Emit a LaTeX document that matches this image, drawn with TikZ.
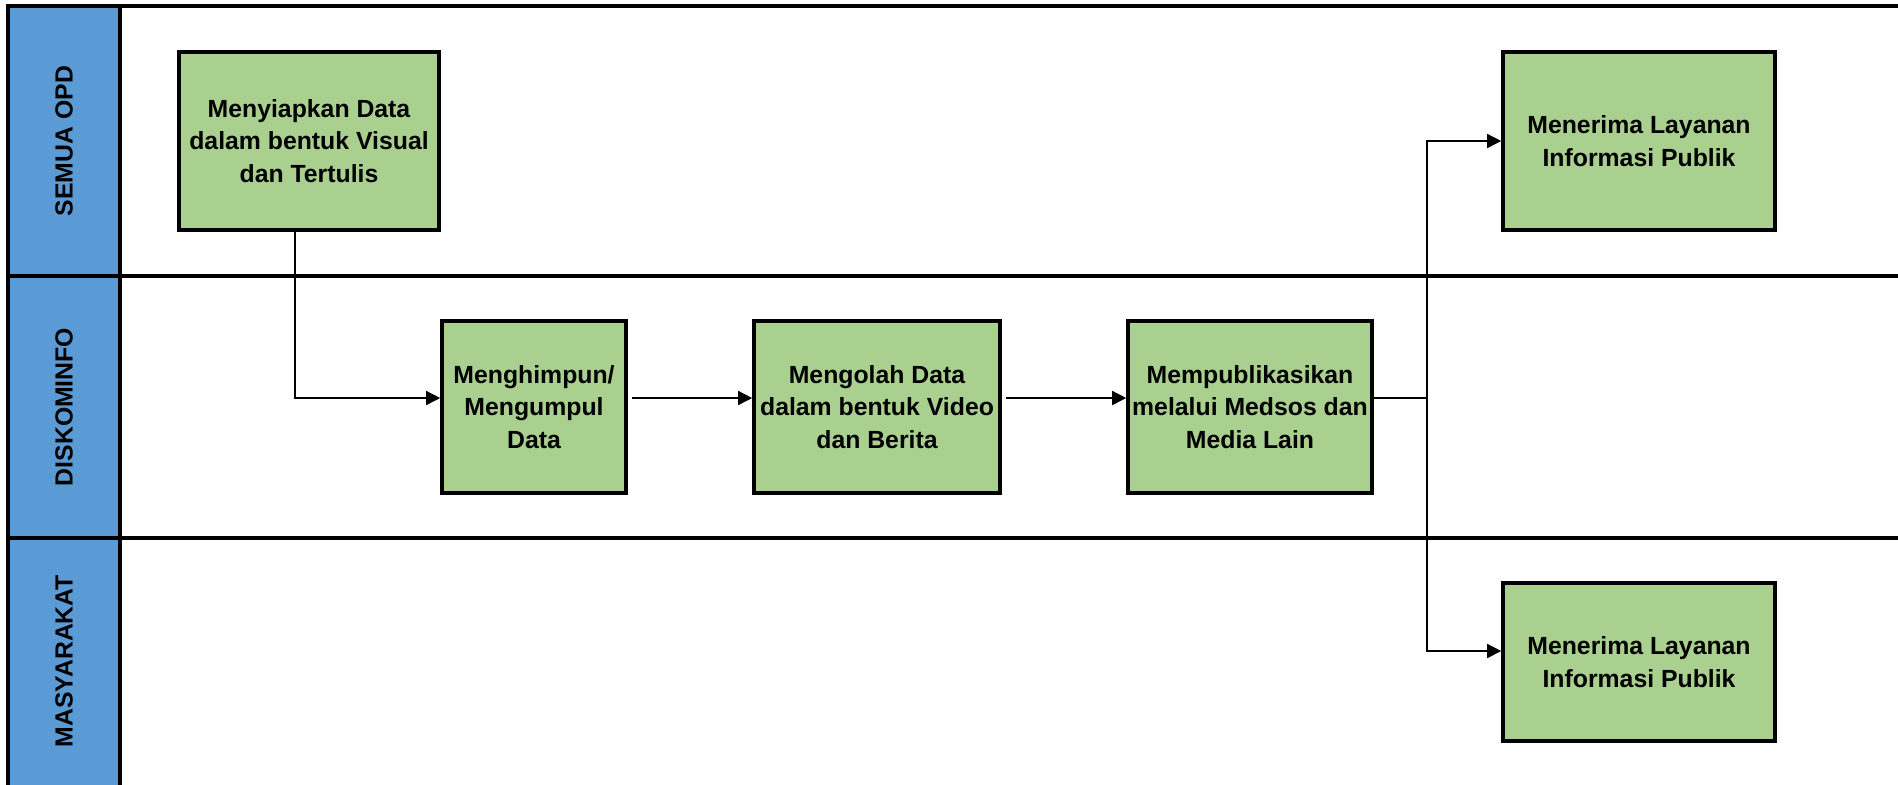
\documentclass[tikz,border=0pt]{standalone}
\usepackage{fontspec}
\setmainfont{Liberation Sans}
\usepackage{tikz}
\usetikzlibrary{positioning,arrows.meta}
\usepackage{xcolor}
\definecolor{lajurbiru}{HTML}{5B9BD5}
\definecolor{kotakhijau}{HTML}{A9D08E}

\begin{document}
\begin{tikzpicture}[
    x=0.5pt, y=-0.5pt,
    kotak/.style={rectangle, fill=kotakhijau, draw=black, line width=1.8pt, align=center,
    inner sep=2pt, font=\fontsize{12.4}{16.2}\selectfont\bfseries},
    lajur/.style={rotate=90, inner sep=0pt, font=\fontsize{12.4}{15}\selectfont\bfseries},
    garis/.style={draw=black, line width=1.8pt},
    panah/.style={draw, line width=0.75pt, -{Triangle[length=7pt,width=7pt]}}
    ]

\useasboundingbox (0,0) rectangle (1898,784);
\clip (0,0) rectangle (1898,784);

%Lanes
\fill[lajurbiru] (8,6) rectangle (120,800);
\draw[garis] (1910,6) -- (8,6) -- (8,800);
\draw[garis] (120,6) -- (120,800);
\draw[garis] (8,276) -- (1910,276);
\draw[garis] (8,538) -- (1910,538);

\node[lajur] (opd) at (64,141) {SEMUA OPD};
\node[lajur] (kominfo) at (64,407) {DISKOMINFO};
\node[lajur] (warga) at (64,661) {MASYARAKAT};

%Semua OPD
\node[kotak, minimum width=130pt, minimum height=89pt] (siapkan) at (309,141)
    {Menyiapkan Data\\dalam bentuk Visual\\dan Tertulis};
\node[kotak, minimum width=136pt, minimum height=89pt] (terima1) at (1639,141)
    {Menerima Layanan\\Informasi Publik};

%Diskominfo
\node[kotak, minimum width=92pt, minimum height=86pt] (himpun) at (534,407)
    {Menghimpun/\\Mengumpul\\Data};
\node[kotak, minimum width=123pt, minimum height=86pt] (olah) at (877,407)
    {Mengolah Data\\dalam bentuk Video\\dan Berita};
\node[kotak, minimum width=122pt, minimum height=86pt] (publikasi) at (1250,407)
    {Mempublikasikan\\melalui Medsos dan\\Media Lain};

%Masyarakat
\node[kotak, minimum width=136pt, minimum height=79pt] (terima2) at (1639,662)
    {Menerima Layanan\\Informasi Publik};

%Connectors
\coordinate (cabang) at (1427,398);
\draw[panah] ([xshift=-7pt]siapkan.south) |- ([yshift=4.5pt]himpun.west);
\draw[panah, shorten <=2pt] ([yshift=4.5pt]himpun.east) -- ([yshift=4.5pt]olah.west);
\draw[panah, shorten <=2pt] ([yshift=4.5pt]olah.east) -- ([yshift=4.5pt]publikasi.west);
\draw[line width=0.9pt] ([yshift=4.5pt]publikasi.east) -- (cabang);
\draw[panah] (cabang) |- (terima1.west);
\draw[panah] (cabang) |- ([yshift=5.5pt]terima2.west);
\end{tikzpicture}
\end{document}
